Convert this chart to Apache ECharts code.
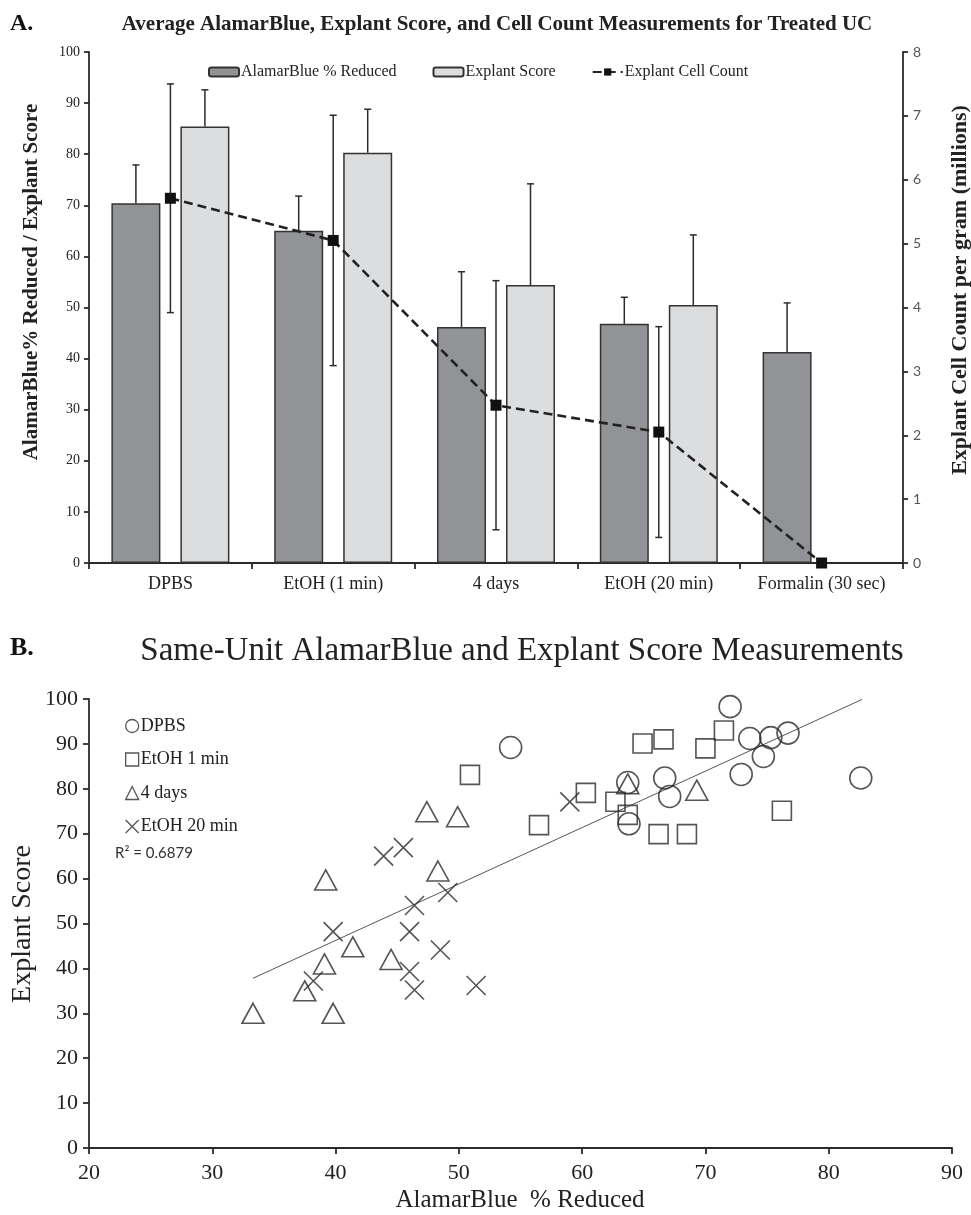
<!DOCTYPE html>
<html><head><meta charset="utf-8">
<script src="https://cdn.jsdelivr.net/npm/echarts@6/dist/echarts.min.js"></script>
<style>html,body{margin:0;padding:0;background:#fff}#c{width:971px;height:1215px}</style>
</head><body><div id="c"></div>
<script>
// ---------- Panel A data ----------
const categories = ['DPBS', 'EtOH (1 min)', '4 days', 'EtOH (20 min)', 'Formalin (30 sec)'];
const alamarMean = [70.4, 65.0, 46.2, 46.8, 41.3];
const alamarErr  = [7.5, 6.8, 10.8, 5.2, 9.6];
const explantMean = [85.4, 80.3, 54.4, 50.5, null];
const explantErr  = [7.2, 8.5, 19.8, 13.7, null];
const cellMean = [5.71, 5.05, 2.47, 2.05, 0];
const cellErr  = [1.79, 1.96, 1.95, 1.65, 0];
const leftAxisA = { min: 0, max: 100, interval: 10 };
const rightAxisA = { min: 0, max: 8, interval: 1 };

// ---------- Panel B data ----------
const dpbs = [[54.2,89.2],[72.0,98.3],[73.6,91.2],[75.3,91.4],[76.7,92.4],[74.7,87.2],[72.9,83.2],[82.6,82.4],[66.7,82.4],[67.1,78.3],[63.7,81.4],[63.8,72.2]];
const etoh1 = [[50.9,83.1],[64.9,90.1],[66.6,91.0],[71.5,93.0],[70.0,89.0],[60.3,79.1],[62.7,77.1],[63.7,74.2],[56.5,71.9],[66.2,69.9],[68.5,69.9],[76.2,75.1]];
const days4 = [[47.4,74.9],[49.9,73.8],[39.2,59.7],[48.3,61.7],[41.4,44.8],[44.5,42.0],[39.1,41.0],[37.5,35.0],[33.3,30.0],[39.8,30.0],[63.7,81.1],[69.3,79.7]];
const etoh20 = [[43.9,65.0],[45.5,66.9],[49.1,56.9],[46.4,54.0],[39.8,48.2],[46.0,48.2],[48.5,44.1],[46.0,39.3],[38.2,37.2],[46.4,35.2],[51.4,36.2],[59.0,77.1]];
const trendLine = [[33.3,37.8],[82.7,99.9]];
const xAxisB = { min: 20, max: 90, interval: 10 };
const yAxisB = { min: 0, max: 100, interval: 10 };
const rSquared = 'R² = 0.6879';

// ---------- styling ----------
const SERIF = "'Liberation Serif','DejaVu Serif',serif";
const SANS = "Lato,'Liberation Sans',sans-serif";
const INK = '#2b2b2b';
const BAR_W = 49, BAR_GAP = 20;
const OFF = (BAR_W + BAR_GAP) / 2;

function errRender(offset, bothCaps) {
  return function (params, api) {
    const i = api.value(0);
    const lo = api.coord([i, api.value(1)]);
    const hi = api.coord([i, api.value(2)]);
    const x = lo[0] + offset, w = 3.5;
    const st = { stroke: INK, lineWidth: 1.5 };
    const ch = [
      { type: 'line', shape: { x1: x, y1: lo[1], x2: x, y2: hi[1] }, style: st },
      { type: 'line', shape: { x1: x - w, y1: hi[1], x2: x + w, y2: hi[1] }, style: st }
    ];
    if (bothCaps) ch.push({ type: 'line', shape: { x1: x - w, y1: lo[1], x2: x + w, y2: lo[1] }, style: st });
    return { type: 'group', children: ch };
  };
}

const alamarErrData = alamarMean.map((m, i) => [i, m, m + alamarErr[i]]);
const explantErrData = explantMean.map((m, i) => m == null ? null : [i, m, m + explantErr[i]]).filter(d => d);
const cellErrData = cellMean.map((m, i) => cellErr[i] ? [i, m - cellErr[i], m + cellErr[i]] : null).filter(d => d);

const axisLineStyle = { color: INK, width: 1.8 };
const mk = { color: 'transparent', borderColor: INK, borderWidth: 1.6 };

const chart = echarts.init(document.getElementById('c'), null, { renderer: 'canvas' });
chart.setOption({
  backgroundColor: '#fff',
  animation: false,
  grid: [
    { left: 89, right: 68, top: 52, bottom: 652 },
    { left: 89, right: 19, top: 699, bottom: 67 }
  ],
  legend: [
    {
      data: ['AlamarBlue % Reduced', 'Explant Score', 'Explant Cell Count'],
      left: 203, top: 59, itemWidth: 30, itemHeight: 9, itemGap: 36,
      textStyle: { fontFamily: SERIF, fontSize: 16, color: '#222', padding: [0, 0, 0, -3] }
    },
    {
      data: ['DPBS', 'EtOH 1 min', '4 days', 'EtOH 20 min'],
      orient: 'vertical', left: 120, top: 712, itemWidth: 13, itemHeight: 13, itemGap: 15.5,
      itemStyle: { color: 'transparent', borderColor: INK, borderWidth: 1.3 },
      textStyle: { fontFamily: SERIF, fontSize: 18, color: '#222', padding: [0, 0, 0, -3] }
    }
  ],
  xAxis: [
    {
      gridIndex: 0, type: 'category', data: categories,
      axisLine: { lineStyle: axisLineStyle },
      axisTick: { show: true, length: 6, lineStyle: axisLineStyle },
      axisLabel: { interval: 0, fontFamily: SERIF, fontSize: 18, color: '#222', margin: 12 },
      splitLine: { show: false }
    },
    {
      gridIndex: 1, type: 'value', min: xAxisB.min, max: xAxisB.max, interval: xAxisB.interval,
      axisLine: { show: true, onZero: false, lineStyle: axisLineStyle },
      axisTick: { show: true, length: 6, lineStyle: axisLineStyle },
      axisLabel: { fontFamily: SERIF, fontSize: 22, color: '#222', margin: 14 },
      splitLine: { show: false }
    }
  ],
  yAxis: [
    {
      gridIndex: 0, type: 'value', position: 'left', min: leftAxisA.min, max: leftAxisA.max, interval: leftAxisA.interval,
      axisLine: { show: true, lineStyle: axisLineStyle },
      axisTick: { show: true, length: 5, lineStyle: axisLineStyle },
      axisLabel: { fontFamily: SERIF, fontSize: 14, color: '#222', margin: 9 },
      splitLine: { show: false }
    },
    {
      gridIndex: 0, type: 'value', position: 'right', min: rightAxisA.min, max: rightAxisA.max, interval: rightAxisA.interval,
      axisLine: { show: true, lineStyle: axisLineStyle },
      axisTick: { show: true, length: 5, lineStyle: axisLineStyle },
      axisLabel: { fontFamily: SANS, fontSize: 14, color: '#555', margin: 10 },
      splitLine: { show: false }
    },
    {
      gridIndex: 1, type: 'value', min: yAxisB.min, max: yAxisB.max, interval: yAxisB.interval,
      axisLine: { show: true, onZero: false, lineStyle: axisLineStyle },
      axisTick: { show: true, length: 6, lineStyle: axisLineStyle },
      axisLabel: { fontFamily: SERIF, fontSize: 22, color: '#222', margin: 11 },
      splitLine: { show: false }
    }
  ],
  series: [
    {
      name: 'AlamarBlue % Reduced', type: 'bar', xAxisIndex: 0, yAxisIndex: 0,
      data: alamarMean, barWidth: BAR_W, barGap: (BAR_GAP / BAR_W * 100) + '%',
      itemStyle: { color: '#929396', borderColor: '#333', borderWidth: 1.5 }, z: 2
    },
    {
      name: 'Explant Score', type: 'bar', xAxisIndex: 0, yAxisIndex: 0,
      data: explantMean.map(v => v == null ? '-' : v), barWidth: BAR_W,
      itemStyle: { color: '#dcdddf', borderColor: '#333', borderWidth: 1.5 }, z: 2
    },
    {
      type: 'custom', xAxisIndex: 0, yAxisIndex: 0, data: alamarErrData,
      encode: { x: 0, y: [1, 2] }, renderItem: errRender(-OFF, false), z: 3, silent: true
    },
    {
      type: 'custom', xAxisIndex: 0, yAxisIndex: 0, data: explantErrData,
      encode: { x: 0, y: [1, 2] }, renderItem: errRender(OFF, false), z: 3, silent: true
    },
    {
      type: 'custom', xAxisIndex: 0, yAxisIndex: 1, data: cellErrData,
      encode: { x: 0, y: [1, 2] }, renderItem: errRender(0, true), z: 3, silent: true
    },
    {
      name: 'Explant Cell Count', type: 'line', xAxisIndex: 0, yAxisIndex: 1, data: cellMean,
      symbol: 'rect', symbolSize: 11,
      itemStyle: { color: '#111' },
      lineStyle: { color: '#222', width: 2.6, type: [9, 5] }, z: 4
    },
    {
      type: 'line', xAxisIndex: 1, yAxisIndex: 2, data: trendLine, symbol: 'none',
      lineStyle: { color: '#555', width: 1 }, z: 2, silent: true
    },
    {
      name: 'DPBS', type: 'scatter', xAxisIndex: 1, yAxisIndex: 2, data: dpbs,
      symbol: 'circle', symbolSize: 22, itemStyle: mk, z: 3
    },
    {
      name: 'EtOH 1 min', type: 'scatter', xAxisIndex: 1, yAxisIndex: 2, data: etoh1,
      symbol: 'rect', symbolSize: 19, itemStyle: mk, z: 3
    },
    {
      name: '4 days', type: 'scatter', xAxisIndex: 1, yAxisIndex: 2, data: days4,
      symbol: 'triangle', symbolSize: [22, 20], itemStyle: mk, z: 3
    },
    {
      name: 'EtOH 20 min', type: 'scatter', xAxisIndex: 1, yAxisIndex: 2, data: etoh20,
      symbol: 'path://M0,0L20,20M20,0L0,20', symbolSize: 19, itemStyle: mk, z: 3
    }
  ],
  graphic: [
    { type: 'text', x: 10, y: 24, style: { text: 'A.', font: 'bold 24px ' + SERIF, fill: '#111', verticalAlign: 'middle' } },
    { type: 'text', x: 497, y: 25, style: { text: 'Average AlamarBlue, Explant Score, and Cell Count Measurements for Treated UC', font: 'bold 21px ' + SERIF, fill: '#222', align: 'center', verticalAlign: 'middle' } },
    { type: 'text', x: 32, y: 282, rotation: Math.PI / 2, style: { text: 'AlamarBlue% Reduced / Explant Score', font: 'bold 21px ' + SERIF, fill: '#222', align: 'center', verticalAlign: 'middle' } },
    { type: 'text', x: 960, y: 290, rotation: Math.PI / 2, style: { text: 'Explant Cell Count per gram (millions)', font: 'bold 22px ' + SERIF, fill: '#222', align: 'center', verticalAlign: 'middle' } },
    { type: 'text', x: 10, y: 648, style: { text: 'B.', font: 'bold 26px ' + SERIF, fill: '#111', verticalAlign: 'middle' } },
    { type: 'text', x: 522, y: 651, style: { text: 'Same-Unit AlamarBlue and Explant Score Measurements', font: '33px ' + SERIF, fill: '#222', align: 'center', verticalAlign: 'middle' } },
    { type: 'text', x: 23, y: 924, rotation: Math.PI / 2, style: { text: 'Explant Score', font: '28px ' + SERIF, fill: '#222', align: 'center', verticalAlign: 'middle' } },
    { type: 'text', x: 520, y: 1200, style: { text: 'AlamarBlue  % Reduced', font: '25px ' + SERIF, fill: '#222', align: 'center', verticalAlign: 'middle' } },
    { type: 'text', x: 115, y: 853, style: { text: rSquared, font: '15px ' + SANS, fill: '#333', verticalAlign: 'middle' } }
  ]
});
</script>
</body></html>
